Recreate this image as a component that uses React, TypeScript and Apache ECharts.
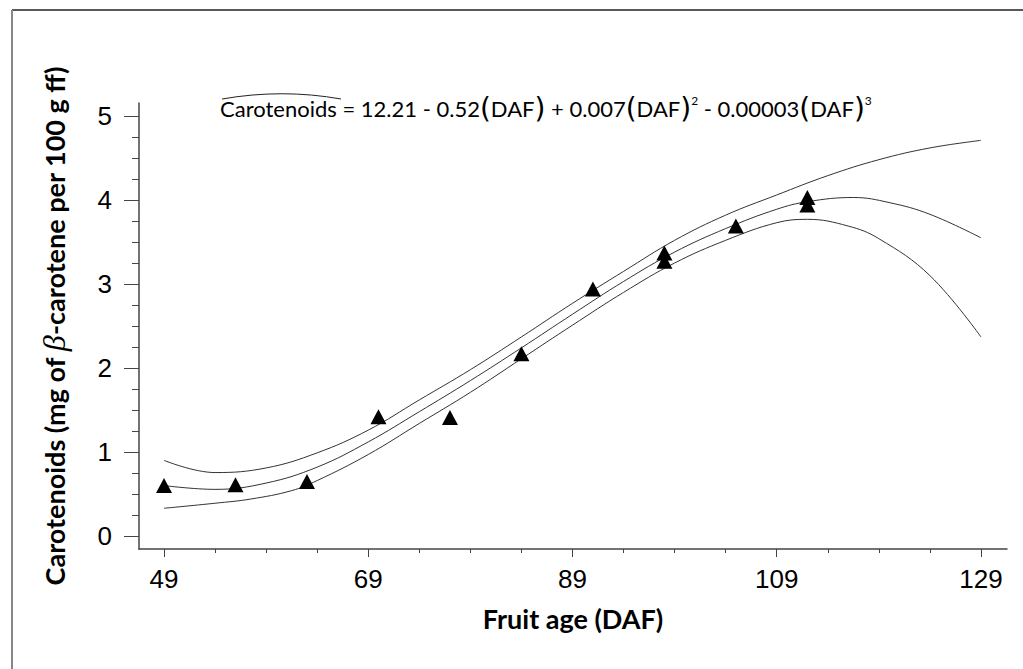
import React, { useEffect, useRef } from "react";
import * as echarts from "echarts";

// Fitted curve and 95% band
const fitAges = [49, 54, 59, 64, 69, 74, 79, 84, 89, 94, 99, 104, 109, 112, 116.5, 120, 124, 129];
const fitValues = [0.6, 0.555, 0.63, 0.82, 1.12, 1.48, 1.85, 2.24, 2.64, 3.03, 3.38, 3.66, 3.89, 3.98, 4.03, 3.97, 3.83, 3.55];
const upperAges = [49, 54, 59, 64, 69, 74, 79, 84, 89, 94, 99, 104, 109, 114, 119, 124, 129];
const upperValues = [0.9, 0.755, 0.81, 0.99, 1.26, 1.62, 1.98, 2.37, 2.77, 3.15, 3.52, 3.82, 4.06, 4.29, 4.48, 4.62, 4.71];
const lowerAges = [49, 54, 57.5, 61.5, 64, 69, 74, 79, 84, 89, 94, 99, 104, 109, 112, 116, 119, 124, 129];
const lowerValues = [0.33, 0.39, 0.44, 0.54, 0.66, 0.97, 1.34, 1.71, 2.11, 2.51, 2.9, 3.25, 3.52, 3.73, 3.77, 3.69, 3.54, 3.1, 2.37];

// Observations
const obsAges = [49, 56, 63, 70, 77, 84, 91, 98, 98, 105, 112, 112];
const obsValues = [0.6, 0.61, 0.65, 1.42, 1.41, 2.17, 2.94, 3.37, 3.27, 3.69, 4.03, 3.94];

// Ticks
const xMajorTicks = [49, 69, 89, 109, 129];
const xMinorTicks = [49, 54, 59, 64, 69, 74, 79, 84, 89, 94, 99, 104, 109, 114, 119, 124, 129];
const yMajorTicks = [0, 1, 2, 3, 4, 5];
const yMinorTicks = [0, 0.25, 0.5, 0.75, 1, 1.25, 1.5, 1.75, 2, 2.25, 2.5, 2.75, 3, 3.25, 3.5, 3.75, 4, 4.25, 4.5, 4.75, 5];

const X_MIN = 46.55;
const X_MAX = 131.55;
const Y_MIN = -0.155;
const Y_MAX = 5.155;

const AXIS_COLOR = "#444";

export default function App() {
  const ref = useRef<HTMLDivElement>(null);

  useEffect(() => {
    if (!ref.current) return;
    const chart = echarts.init(ref.current, null, { renderer: "svg" });
    const pair = (xs: number[], ys: number[]) => xs.map((x, i) => [x, ys[i]]);
    const curveStyle = { color: "#333", width: 1 };

    chart.setOption({
      animation: false,
      backgroundColor: "#fff",
      grid: { left: 139, top: 103, right: 16, bottom: 120, containLabel: false },
      xAxis: [
        {
          type: "value",
          min: X_MIN,
          max: X_MAX,
          position: "bottom",
          axisLine: { onZero: false, lineStyle: { color: AXIS_COLOR, width: 1.5 } },
          axisTick: { customValues: xMajorTicks, length: 8, lineStyle: { color: AXIS_COLOR, width: 1 } },
          axisLabel: {
            customValues: xMajorTicks,
            margin: 17,
            fontFamily: "Liberation Sans",
            fontSize: 26,
            color: "#000",
          },
          splitLine: { show: false },
          name: "Fruit age (DAF)",
          nameLocation: "middle",
          nameGap: 56,
          nameTextStyle: { fontFamily: "Lato", fontWeight: "bold", fontSize: 27, color: "#000" },
        },
        {
          type: "value",
          min: X_MIN,
          max: X_MAX,
          position: "bottom",
          axisLine: { show: false, onZero: false },
          axisTick: { customValues: xMinorTicks, length: 4, lineStyle: { color: AXIS_COLOR, width: 1 } },
          axisLabel: { show: false },
          splitLine: { show: false },
        },
      ],
      yAxis: [
        {
          type: "value",
          min: Y_MIN,
          max: Y_MAX,
          position: "left",
          axisLine: { show: true, onZero: false, lineStyle: { color: AXIS_COLOR, width: 1.5 } },
          axisTick: { show: true, customValues: yMajorTicks, length: 15, lineStyle: { color: AXIS_COLOR, width: 1 } },
          axisLabel: {
            customValues: yMajorTicks,
            margin: 27,
            fontFamily: "Liberation Sans",
            fontSize: 26,
            color: "#000",
          },
          splitLine: { show: false },
          name: "{b|Carotenoids (mg of }{g|β}{b|-carotene per 100 g ff)}",
          nameLocation: "middle",
          nameGap: 69,
          nameTextStyle: {
            fontFamily: "Lato",
            fontWeight: "bold",
            fontSize: 27,
            color: "#000",
            rich: {
              b: { fontFamily: "Lato", fontWeight: "bold", fontSize: 27, color: "#000" },
              g: { fontFamily: "Liberation Serif", fontStyle: "italic", fontWeight: "normal", fontSize: 32, color: "#000" },
            },
          },
        },
        {
          type: "value",
          min: Y_MIN,
          max: Y_MAX,
          position: "left",
          axisLine: { show: false, onZero: false },
          axisTick: { show: true, customValues: yMinorTicks, length: 7, lineStyle: { color: AXIS_COLOR, width: 1 } },
          axisLabel: { show: false },
          splitLine: { show: false },
        },
      ],
      series: [
        {
          type: "line",
          data: pair(upperAges, upperValues),
          showSymbol: false,
          smooth: 0.4,
          lineStyle: curveStyle,
          silent: true,
        },
        {
          type: "line",
          data: pair(fitAges, fitValues),
          showSymbol: false,
          smooth: 0.4,
          lineStyle: curveStyle,
          silent: true,
        },
        {
          type: "line",
          data: pair(lowerAges, lowerValues),
          showSymbol: false,
          smooth: 0.4,
          lineStyle: curveStyle,
          silent: true,
        },
        {
          type: "scatter",
          data: pair(obsAges, obsValues),
          symbol: "triangle",
          symbolSize: [16, 15],
          itemStyle: { color: "#000", opacity: 1 },
          z: 5,
        },
      ],
      graphic: [
        {
          type: "line",
          shape: { x1: 12, y1: 10, x2: 1023, y2: 10 },
          style: { stroke: "#222", lineWidth: 1.5 },
        },
        {
          type: "line",
          shape: { x1: 12, y1: 10, x2: 12, y2: 669 },
          style: { stroke: "#888", lineWidth: 2 },
        },
        {
          type: "bezierCurve",
          shape: { x1: 222, y1: 99, cpx1: 262, cpy1: 92, cpx2: 302, cpy2: 92, x2: 341, y2: 99 },
          style: { stroke: "#222", lineWidth: 1, fill: null },
        },
        {
          type: "text",
          x: 220,
          y: 94,
          style: {
            text:
              "{t|Carotenoids = 12.21 - 0.52}{p|(}{t|DAF}{p|)}{t| + 0.007}{p|(}{t|DAF}{p|)}{s|2}{t| - 0.00003}{p|(}{t|DAF}{p|)}{s|3}",
            fill: "#000",
            rich: {
              t: { fontFamily: "Lato", fontSize: 22, color: "#000" },
              p: { fontFamily: "DejaVu Sans", fontWeight: "normal", fontSize: 28, color: "#000" },
              s: { fontFamily: "Lato", fontSize: 12, color: "#000", verticalAlign: "top" },
            },
          },
        },
      ],
    });

    return () => chart.dispose();
  }, []);

  return (
    <div
      ref={ref}
      style={{ position: "fixed", left: 0, top: 0, width: 1023, height: 669, background: "#fff" }}
    />
  );
}
